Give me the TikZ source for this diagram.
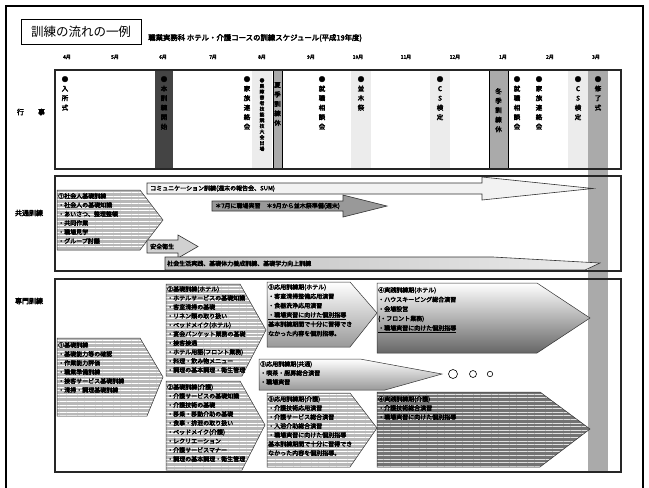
\documentclass[tikz,border=0pt]{standalone}
\usepackage{fontspec}
\setmainfont{Noto Sans CJK JP}
\newfontfamily\jpb{Noto Sans CJK JP}[FakeBold=3.5]
\usetikzlibrary{patterns.meta}
\definecolor{bardark}{HTML}{444444}
\definecolor{barmid}{HTML}{AAAAAA}
\definecolor{barlight}{HTML}{ECECEC}
\begin{document}
\begin{tikzpicture}[x=1pt,y=-1pt,
  evt/.style={font=\jpb\fontsize{6.5}{9.5}\selectfont, align=center, inner sep=0pt, anchor=north},
  evts/.style={font=\jpb\fontsize{4.8}{5.7}\selectfont, align=center, inner sep=0pt, anchor=north},
  mon/.style={font=\jpb\fontsize{5}{6}\selectfont, inner sep=0pt},
  lbl/.style={font=\jpb\fontsize{7}{8}\selectfont, inner sep=0pt},
  body/.style={font=\jpb\fontsize{6}{9}\selectfont, align=left, inner sep=0pt, anchor=north west},
  frame/.style={draw=black!85, line width=1.1pt},
  stripe/.style={fill=black!28, postaction={pattern={Lines[angle=0,distance=3.6pt,line width=1pt]}, pattern color=white}, postaction={draw=black!80, line width=0.5pt}},
  stripedark/.style={fill=black!55, postaction={pattern={Lines[angle=0,distance=3.6pt,line width=1pt]}, pattern color=black!12}, postaction={draw=black!80, line width=0.5pt}},
  shadeA/.style={top color=white, bottom color=black!40, draw=black!80, line width=0.5pt},
  shadeB/.style={top color=white, bottom color=black!60, draw=black!80, line width=0.5pt},
  arrowlight/.style={fill=black!5, draw=black!80, line width=0.6pt},
  arrowmid/.style={fill=black!40, draw=black!80, line width=0.6pt},
  arrowpale/.style={fill=black!18, draw=black!80, line width=0.6pt},
  wedge/.style={left color=black!25, right color=black!8, draw=black!80, line width=0.6pt}
]
\useasboundingbox[fill=white] (0,0) rectangle (649,488);
% outer frame
\draw[line width=1.4pt] (6,6) rectangle (643,500);
% title
\node[draw, line width=0.6pt, minimum width=120pt, minimum height=25pt, inner sep=0pt, font=\fontsize{12.5}{14}\selectfont] (title) at (81,31.5) {訓練の流れの一例};
\node[font=\jpb\fontsize{7.4}{8}\selectfont, anchor=west, inner sep=0pt] (subtitle) at (148,38) {職業実務科 ホテル・介護コースの訓練スケジュール(平成19年度)};
% months
\foreach \m/\x in {4月/67,5月/115,6月/163,7月/213,8月/262,9月/311,10月/358,11月/406,12月/455,1月/503,2月/550,3月/596}
  \node[mon] (mon\x) at (\x,57) {\m};
% bars in events row
\fill[bardark] (155,70) rectangle (173,169);
\fill[barlight] (252,70) rectangle (272,169);
\filldraw[fill=barmid, draw=black, line width=0.5pt] (273,70) rectangle (282,169);
\fill[barlight] (351,70) rectangle (371,169);
\fill[barlight] (430,70) rectangle (450,169);
\filldraw[fill=barmid, draw=black, line width=0.5pt] (489,70) rectangle (508,169);
\fill[barlight] (568,70) rectangle (588,169);
\fill[barmid] (588,70) rectangle (608,473);
% row labels
\node[lbl] (lgyoji) at (31,112) {行　　事};
\node[lbl] (lkyotsu) at (29,213) {共通訓練};
\node[lbl] (lsenmon) at (29,301) {専門訓練};
% events
\node[evt] (e1) at (65,76) {●\\入\\所\\式};
\node[evt] (e2) at (164,76) {●\\本\\訓\\練\\開\\始};
\node[evt] (e3) at (247,76) {●\\家\\族\\連\\絡\\会};
\node[evts] (e4) at (262,78) {●\\県\\障\\害\\者\\技\\能\\競\\技\\大\\会\\出\\場};
\node[evt] (e5) at (277.5,82) {夏\\季\\訓\\練\\休};
\node[evt] (e6) at (322,76) {●\\就\\職\\相\\談\\会};
\node[evt] (e7) at (361,76) {●\\並\\木\\祭};
\node[evt] (e8) at (440,76) {●\\C\\S\\検\\定};
\node[evt] (e9) at (498.5,88) {冬\\季\\訓\\練\\休};
\node[evt] (e10) at (517,76) {●\\就\\職\\相\\談\\会};
\node[evt] (e11) at (539,76) {●\\家\\族\\連\\絡\\会};
\node[evt] (e12) at (578,76) {●\\C\\S\\検\\定};
\node[evt] (e13) at (598,76) {●\\修\\了\\式};
% ---- common training shapes
\path[stripe] (57,190) -- (140,190) -- (163,220) -- (140,250) -- (57,250) -- cycle;
\node[body] (k1) at (58,193) {①社会人基礎訓練\\・社会人の基礎知識\\・あいさつ、整理整頓\\・共同作業\\・職場見学\\・グループ討議};
\path[arrowlight] (147,183) -- (482,183) -- (482,177) -- (593,188.5) -- (482,200) -- (482,194) -- (147,194) -- cycle;
\node[body, anchor=west] (k2) at (150,188.5) {コミュニケーション訓練(週末の報告会、SUM)};
\path[arrowmid] (212,201) -- (343,201) -- (343,195) -- (387,206) -- (343,217) -- (343,211) -- (212,211) -- cycle;
\node[body, anchor=west] (k3) at (215,206) {＊7月に職場実習　＊9月から並木祭準備(週末)};
\path[arrowpale] (147,240) -- (178,240) -- (178,235) -- (198,246.5) -- (178,258) -- (178,253) -- (147,253) -- cycle;
\node[body, anchor=west] (k4) at (150,246.5) {安全衛生};
\path[wedge] (165,257) -- (493,257) -- (600,263) -- (585,270) -- (165,270) -- cycle;
\node[body, anchor=west] (k5) at (167,263.5) {社会生活実践、基礎体力養成訓練、基礎学力向上訓練};
% ---- specialised training shapes
\path[stripe] (57,338) -- (140,338) -- (163,377) -- (147,416) -- (57,416) -- cycle;
\node[body] (s1) at (58,342) {①基礎訓練\\・基礎能力等の確認\\・作業能力評価\\・職業準備訓練\\・接客サービス基礎訓練\\・清掃・調理基礎訓練};
\path[stripe] (166,284) -- (240,284) -- (266,330) -- (242,376) -- (166,376) -- cycle;
\node[body] (s2) at (167,286) {②基礎訓練(ホテル)\\・ホテルサービスの基礎知識\\・客室清掃の基礎\\・リネン類の取り扱い\\・ベッドメイク(ホテル)\\・宴会バンケット業務の基礎\\・接客接遇\\・ホテル用語(フロント業務)\\・料理・飲み物メニュー\\・調理の基本調理・衛生管理};
\path[stripe] (166,381) -- (240,381) -- (265,425) -- (242,470) -- (166,470) -- cycle;
\node[body] (s3) at (167,384) {②基礎訓練(介護)\\・介護サービスの基礎知識\\・介護技術の基礎\\・移乗・移動介助の基礎\\・食事・排泄の取り扱い\\・ベッドメイク(介護)\\・レクリエーション\\・介護サービスマナー\\・調理の基本調理・衛生管理};
\path[shadeA] (267,282) -- (350,282) -- (377,313) -- (350,347) -- (267,347) -- cycle;
\node[body, font=\jpb\fontsize{6}{9.3}\selectfont] (s4) at (268,284) {③応用訓練期(ホテル)\\・客室清掃整備応用演習\\・食器洗浄応用演習\\\underline{・職場実習に向けた個別指導}\\基本訓練期間で十分に習得でき\\なかった内容を個別指導。};
\path[shadeB] (377,283) -- (537,283) -- (590,318) -- (537,353) -- (377,353) -- cycle;
\node[body, font=\jpb\fontsize{6}{9.5}\selectfont] (s5) at (378,287) {④実践訓練期(ホテル)\\・ハウスキーピング総合演習\\・会場設営\\(・フロント業務)\\\underline{・職場実習に向けた個別指導}};
\path[shadeA] (259,359) -- (360,359) -- (442,374) -- (385,390) -- (259,390) -- cycle;
\node[body] (s6) at (260,361) {③応用訓練期(共通)\\・喫茶・厨房総合演習\\・職場実習};
\draw[line width=0.6pt, fill=white] (453,374) circle (4.5pt);
\draw[line width=0.6pt, fill=white] (473,374) circle (3.5pt);
\draw[line width=0.6pt, fill=white] (490,374) circle (2.7pt);
\path[stripe] (267,393) -- (350,393) -- (377,428) -- (350,467) -- (267,467) -- cycle;
\node[body] (s7) at (268,396) {③応用訓練期(介護)\\・介護技術応用演習\\・介護サービス総合演習\\・入浴介助総合演習\\・職場実習に向けた個別指導\\基本訓練期間で十分に習得でき\\なかった内容を個別指導。};
\path[stripedark] (377,392) -- (540,392) -- (590,429) -- (540,467) -- (377,467) -- cycle;
\node[body] (s8) at (378,396) {④実践訓練期(介護)\\・介護技術総合演習\\・職場実習に向けた個別指導};
% section frames
\draw[frame] (55,70) rectangle (621,169);
\draw[frame] (55,176) rectangle (621,271);
\draw[frame] (55,279) rectangle (621,472);
\end{tikzpicture}
\end{document}
